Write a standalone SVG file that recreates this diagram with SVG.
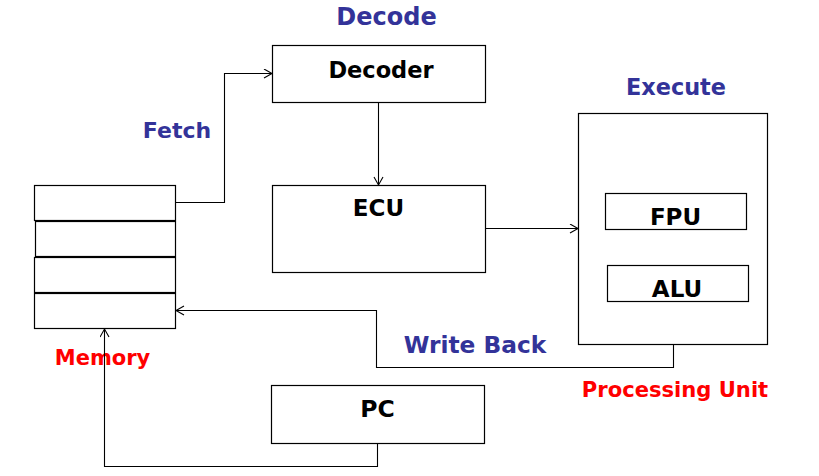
<svg xmlns="http://www.w3.org/2000/svg" width="819" height="476" viewBox="0 0 819 476">
<style>
.box{fill:#fff;stroke:#000;stroke-width:1.2}
.t{font-family:"DejaVu Sans",Verdana,sans-serif;font-weight:bold;fill:#000;text-anchor:middle}
.blue{fill:#333399}
.red{fill:#ff0000}
.c{fill:none;stroke:#000;stroke-width:1.1}
</style>
<defs>
<marker id="arr" markerUnits="userSpaceOnUse" markerWidth="12" markerHeight="12" refX="9" refY="5" orient="auto">
<path d="M1,0.5 L9,5 L1,9.5" fill="none" stroke="#000" stroke-width="1.1"/>
</marker>
</defs>
<rect width="819" height="476" fill="#fff"/>
<g id="labels">
<text class="t blue" x="386.5" y="25" font-size="24">Decode</text>
<text class="t blue" x="177" y="138" font-size="22">Fetch</text>
<text class="t blue" x="676" y="95" font-size="22.4">Execute</text>
<text class="t blue" x="475" y="353" font-size="23.3">Write Back</text>
<text class="t red" x="102.5" y="365" font-size="21">Memory</text>
<text class="t red" x="675" y="397" font-size="21.1">Processing Unit</text>
</g>
<g id="memory">
<rect class="box" x="34.5" y="185.5" width="141" height="35"/>
<rect class="box" x="35.5" y="221.5" width="140" height="35"/>
<rect class="box" x="34.5" y="257.5" width="141" height="35"/>
<rect class="box" x="34.5" y="293.5" width="141" height="35"/>
</g>
<g id="decoder">
<rect class="box" x="272.5" y="45.5" width="213" height="57"/>
<text class="t" x="381" y="78" font-size="22.5">Decoder</text>
</g>
<g id="ecu">
<rect class="box" x="272.5" y="185.5" width="213" height="87"/>
<text class="t" x="378.5" y="216" font-size="23">ECU</text>
</g>
<g id="processing-unit">
<rect class="box" x="578.5" y="113.5" width="189" height="231"/>
</g>
<g id="fpu">
<rect class="box" x="605.5" y="193.5" width="141" height="36"/>
<text class="t" x="675.5" y="225" font-size="23">FPU</text>
</g>
<g id="alu">
<rect class="box" x="607.5" y="265.5" width="141" height="36"/>
<text class="t" x="677" y="297" font-size="23">ALU</text>
</g>
<g id="pc">
<rect class="box" x="271.5" y="385.5" width="213" height="58"/>
<text class="t" x="377.5" y="417" font-size="23.5">PC</text>
</g>
<g id="connectors">
<path class="c" d="M175.5,202.5 H224.5 V73.5 H272" marker-end="url(#arr)"/>
<path class="c" d="M378.5,102.5 V185" marker-end="url(#arr)"/>
<path class="c" d="M485.5,228.5 H578" marker-end="url(#arr)"/>
<path class="c" d="M673.5,344.5 V367.5 H376.5 V310.5 H176" marker-end="url(#arr)"/>
<path class="c" d="M377.5,443.5 V466.5 H104.5 V329" marker-end="url(#arr)"/>
</g>
</svg>
